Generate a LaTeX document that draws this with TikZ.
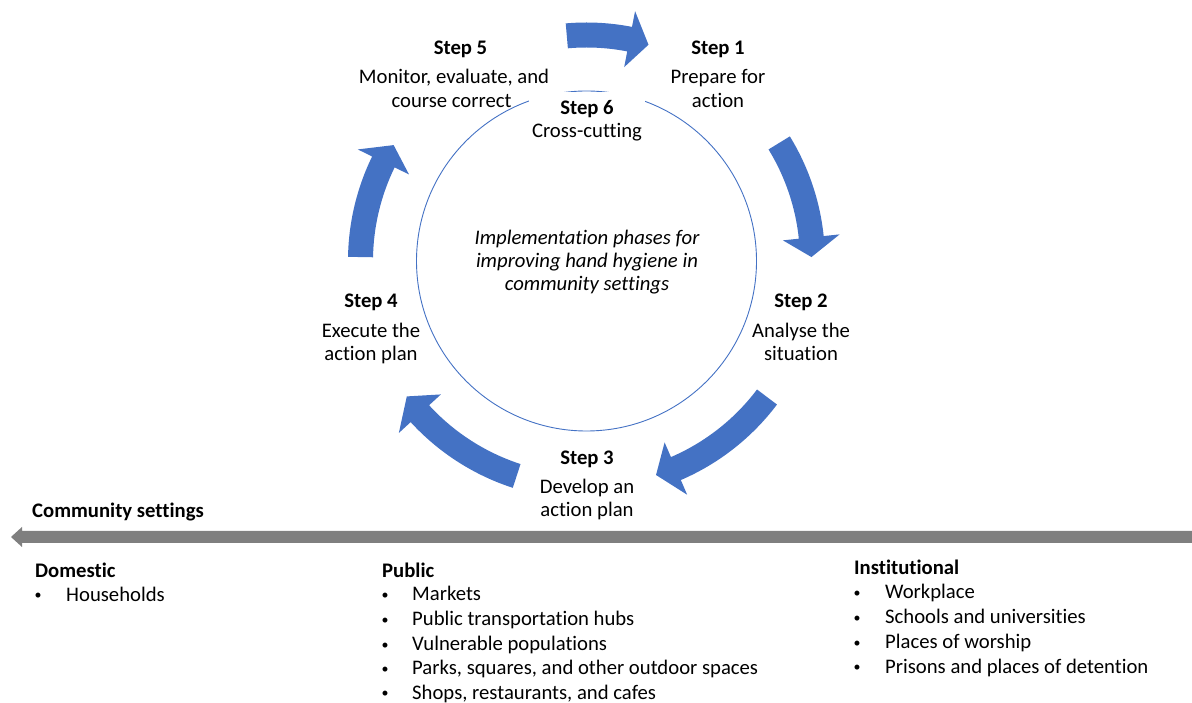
\documentclass[tikz,border=0pt]{standalone}
\usepackage{fontspec}
\setmainfont{Carlito}[Ligatures=NoCommon]
\definecolor{cycblue}{HTML}{4472C4}
\definecolor{axisgray}{HTML}{7F7F7F}
\newcommand\cyclearrow[3]{%
  \fill[cycblue] (#1:238.5) arc[start angle=#1,end angle=#2,radius=238.5]
    -- (#2:254.5) -- (#3:225) -- (#2:197.5) -- (#2:213.5)
    arc[start angle=#2,end angle=#1,radius=213.5] -- cycle;}
\begin{document}
\begin{tikzpicture}[x=1pt,y=1pt,
  txt/.style={font=\fontsize{20.7}{24}\selectfont, inner sep=0pt, anchor=base},
  steptitle/.style={txt, font=\fontsize{20.7}{24}\selectfont\bfseries},
  midtext/.style={txt, font=\fontsize{20.7}{24}\selectfont\itshape},
  heading/.style={txt, anchor=base west, font=\fontsize{20.7}{24}\selectfont\bfseries},
  bul/.style={txt, anchor=base, font=\fontsize{14}{16}\selectfont},
  item/.style={txt, anchor=base west}]
\useasboundingbox (0,0) rectangle (1192,702);
% cycle
\begin{scope}[shift={(586.5,441)}]
  \draw[cycblue, line width=0.9pt] (0,0) circle[radius=170];
  \cyclearrow{95}{79}{74}
  \cyclearrow{31.5}{6}{1}
  \cyclearrow{-37}{-66.7}{-72}
  \cyclearrow{-108}{-137.5}{-143}
  \cyclearrow{179}{154}{149}
\end{scope}
% white mask for step 6
\fill[white] (529,558) rectangle (645,610);
\fill[axisgray] (1192,171) -- (22,171) -- (22,175) -- (11,165) -- (22,155) -- (22,159) -- (1192,159) -- cycle;
\begin{scope}[yshift=-1.5pt]
% step texts
\node[steptitle] (s5t) at (460.5,648.5) {Step 5};
\node[txt] (s5a) at (454,619.5) {Monitor, evaluate, and};
\node[txt] (s5b) at (451.5,595.5) {course correct};
\node[steptitle] (s1t) at (718,648.5) {Step 1};
\node[txt] (s1a) at (718,619.5) {Prepare for};
\node[txt] (s1b) at (718,595.5) {action};
\node[steptitle] (s6t) at (587,588.5) {Step 6};
\node[txt] (s6a) at (587,565.5) {Cross-cutting};
\node[steptitle] (s2t) at (801,395.5) {Step 2};
\node[txt] (s2a) at (801,365.5) {Analyse the};
\node[txt] (s2b) at (801,342.5) {situation};
\node[steptitle] (s4t) at (371,395.5) {Step 4};
\node[txt] (s4a) at (371,365.5) {Execute the};
\node[txt] (s4b) at (371,342.5) {action plan};
\node[steptitle] (s3t) at (587,238.5) {Step 3};
\node[txt] (s3a) at (587,209.5) {Develop an};
\node[txt] (s3b) at (587,186.5) {action plan};
\node[midtext] (m1) at (587,458.5) {Implementation phases for};
\node[midtext] (m2) at (587,435.5) {improving hand hygiene in};
\node[midtext] (m3) at (587,412.5) {community settings};
% community axis
\node[heading] (cs) at (32,185.5) {Community settings};
% Domestic
\node[heading] (dom) at (35,126) {Domestic};
\node[bul] (db1) at (38,103.5) {•};
\node[item] (di1) at (66,102) {Households};
% Public
\node[heading] (pub) at (382,126) {Public};
\node[bul] (pb1) at (385,104.2) {•};
\node[item] (pi1) at (412,102.7) {Markets};
\node[bul] (pb2) at (385,79.2) {•};
\node[item] (pi2) at (412,77.7) {Public transportation hubs};
\node[bul] (pb3) at (385,54.2) {•};
\node[item] (pi3) at (412,52.7) {Vulnerable populations};
\node[bul] (pb4) at (385,30.2) {•};
\node[item] (pi4) at (412,28.7) {Parks, squares, and other outdoor spaces};
\node[bul] (pb5) at (385,5.8) {•};
\node[item] (pi5) at (412,4.3) {Shops, restaurants, and cafes};
% Institutional
\node[heading] (ins) at (854,128.5) {Institutional};
\node[bul] (ib1) at (857,106) {•};
\node[item] (ii1) at (885,104.5) {Workplace};
\node[bul] (ib2) at (857,81) {•};
\node[item] (ii2) at (885,79.5) {Schools and universities};
\node[bul] (ib3) at (857,56) {•};
\node[item] (ii3) at (885,54.5) {Places of worship};
\node[bul] (ib4) at (857,32) {•};
\node[item] (ii4) at (885,30.5) {Prisons and places of detention};
\end{scope}
\end{tikzpicture}
\end{document}
